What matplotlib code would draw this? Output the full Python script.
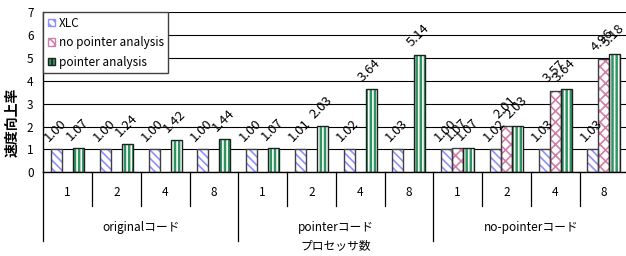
import numpy as np
import matplotlib
matplotlib.use('Agg')
import matplotlib.pyplot as plt
from matplotlib.patches import Patch
from matplotlib.transforms import blended_transform_factory

plt.rcParams['font.family'] = ['Noto Sans CJK JP', 'DejaVu Sans']
plt.rcParams['hatch.linewidth'] = 1.2

# ---- data ----
groups = ['originalコード', 'pointerコード', 'no-pointerコード']
procs = ['1', '2', '4', '8']
series_names = ['XLC', 'no pointer analysis', 'pointer analysis']
xlc = [1.00, 1.00, 1.00, 1.00, 1.00, 1.01, 1.02, 1.03, 1.00, 1.02, 1.03, 1.03]
no_ptr = [np.nan] * 8 + [1.07, 2.01, 3.57, 4.96]
ptr = [1.07, 1.24, 1.42, 1.44, 1.07, 2.03, 3.64, 5.14, 1.07, 2.03, 3.64, 5.18]
ylabel = '速度向上率'
xlabel = 'プロセッサ数'
yticks = [0, 1, 2, 3, 4, 5, 6, 7]

# ---- styles ----
styles = [
    dict(face='white', hatchc='#8f8fff', hatch='\\\\\\\\', edge='#404040'),
    dict(face='white', hatchc='#d07fa8', hatch='xxx', edge='#404040'),
    dict(face='#2f9560', hatchc='white', hatch='||||', edge='#202020'),
]

W, H = 626, 256
fig = plt.figure(figsize=(W / 100, H / 100), dpi=100)
ax_left, ax_right, ax_top, ax_bot = 43.3, 628.3, 12.0, 172.3
ax = fig.add_axes([ax_left / W, 1 - ax_bot / H, (ax_right - ax_left) / W, (ax_bot - ax_top) / H])

n = len(xlc)
x = np.arange(n)
w = 0.2256
data = [xlc, no_ptr, ptr]

for k, (vals, st) in enumerate(zip(data, styles)):
    vals = np.array(vals, dtype=float)
    off = (k - 1) * w
    ax.bar(x + off, vals, w, color=st['face'], edgecolor=st['hatchc'], hatch=st['hatch'],
           linewidth=0, zorder=2)
    ax.bar(x + off, vals, w, fill=False, edgecolor=st['edge'], linewidth=1.0, zorder=3)
    for xi, v in zip(x + off, vals):
        if np.isnan(v):
            continue
        ax.annotate(f'{v:.2f}', (xi, v), xytext=(-1, 13.5), textcoords='offset points',
                    rotation=45, ha='center', va='center', fontsize=9.5, zorder=4)

ax.set_xlim(-0.5, n - 0.5)
ax.set_ylim(0, 7)
ax.set_yticks(yticks)
ax.tick_params(axis='y', length=0, pad=7, labelsize=8.5)
ax.set_xticks([])
ax.set_axisbelow(True)
ax.yaxis.grid(True, color='black', linewidth=0.8)
for s in ['top', 'right']:
    ax.spines[s].set_visible(False)
ax.spines['left'].set_color('black')
ax.spines['bottom'].set_color('black')
ax.spines['left'].set_linewidth(1.0)
ax.spines['bottom'].set_linewidth(1.0)

# ---- two-level category axis ----
ph = ax_bot - ax_top
trans = blended_transform_factory(ax.transData, ax.transAxes)
y_tick = -(192 - ax_bot) / ph
y_grp = -(227.5 - ax_bot) / ph
y_minor = -(205.7 - ax_bot) / ph
y_major = -(240.7 - ax_bot) / ph
for i in range(n):
    ax.text(i, y_tick, procs[i % len(procs)], transform=trans, ha='center', va='center',
            fontsize=8.5, clip_on=False)
for b in range(n + 1):
    xb = b - 0.5
    ybot = y_major if b % len(procs) == 0 else y_minor
    ax.plot([xb, xb], [0, ybot], transform=trans, color='black', linewidth=0.9, clip_on=False)
for g, name in enumerate(groups):
    xc = g * len(procs) + (len(procs) - 1) / 2
    ax.text(xc, y_grp, name, transform=trans, ha='center', va='center', fontsize=8.5, clip_on=False)

fig.text(((ax_left + ax_right) / 2) / W, 1 - 246 / H, xlabel, ha='center', va='center', fontsize=8.5)
fig.text(12.5 / W, 1 - 122 / H, ylabel, rotation=90, ha='center', va='center', fontsize=10,
         fontweight='bold')

handles = [Patch(facecolor=st['face'], edgecolor=st['hatchc'] if st['face'] == 'white' else '#202020',
                 hatch=st['hatch']) for st in styles]
leg = ax.legend(handles, series_names, loc='upper left', bbox_to_anchor=(0, 1), borderaxespad=0,
                fontsize=8.5, handlelength=0.6, handleheight=0.6, handletextpad=0.3,
                labelspacing=0.55, borderpad=0.4, fancybox=False, framealpha=1)
leg.get_frame().set_edgecolor('#404040')
leg.get_frame().set_linewidth(1.0)
leg.set_zorder(10)

fig.savefig('out.png', dpi=100)
